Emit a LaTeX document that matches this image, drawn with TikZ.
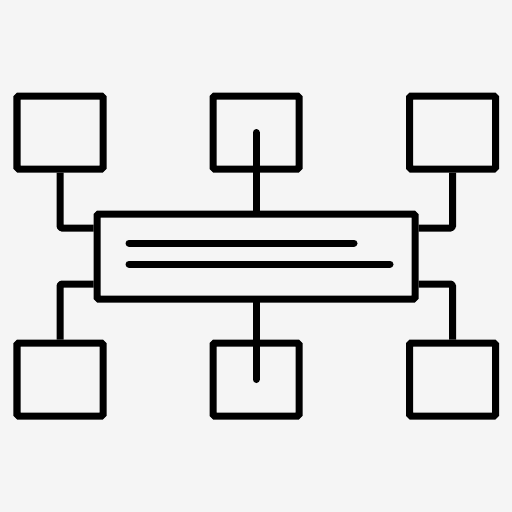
\documentclass[tikz,border=0pt]{standalone}
\usepackage{tikz}
\definecolor{bgcol}{RGB}{245,245,245}
\tikzset{
  leaf/.style={draw,line width=7mm,rounded corners=1.5mm,minimum width=86mm,minimum height=73mm,inner sep=0pt},
  wire/.style={line width=7mm,line join=round,rounded corners=1.5mm},
}
\begin{document}
\begin{tikzpicture}[x=1mm,y=-1mm]
    \fill[bgcol] (0,0) rectangle (512,512);
    \useasboundingbox (0,0) rectangle (512,512);

    \node (hub) at (256,256.5) [draw,line width=7mm,rounded corners=1.5mm,minimum width=318mm,minimum height=85mm,inner sep=0pt] {};

    \node (tl) at (60,132.5) [leaf] {};
    \node (tm) at (256,132.5) [leaf] {};
    \node (tr) at (452.5,132.5) [leaf] {};
    \node (bl) at (60,379.5) [leaf] {};
    \node (bm) at (256,379.5) [leaf] {};
    \node (br) at (452.5,379.5) [leaf] {};

    \coordinate (txt1) at (129,243);
    \coordinate (txt2) at (129,264);

    \draw[wire]
    (tl.south) |- ([yshift=2.85cm]hub.west)
    (tr.south) |- ([yshift=2.85cm]hub.east)
    (bl.north) |- ([yshift=-2.75cm]hub.west)
    (br.north) |- ([yshift=-2.75cm]hub.east);

    \draw[wire, line cap=round]
    (tm.center) -- (hub.north)
    (hub.south) -- (bm.center);

    \draw[wire, line cap=round]
    (txt1) -- ++(225,0)
    (txt2) -- ++(261,0);
\end{tikzpicture}
\end{document}
